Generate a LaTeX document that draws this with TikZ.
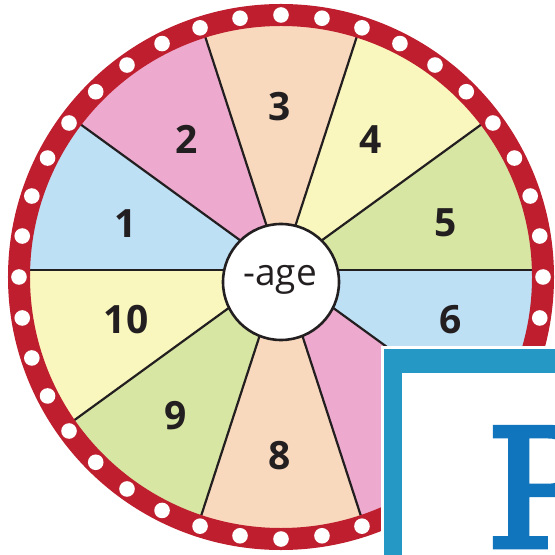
\documentclass[tikz,border=0pt]{standalone}
\usepackage{fontspec}
\setmainfont{Open Sans}
\newfontfamily\slabfont[FakeBold=3]{DejaVu Serif}

\definecolor{wheelblue}{HTML}{BDE0F5}
\definecolor{wheelpink}{HTML}{EDAACE}
\definecolor{wheelpeach}{HTML}{F9D9BD}
\definecolor{wheelyellow}{HTML}{FAF7BE}
\definecolor{wheelgreen}{HTML}{D8E6A4}
\definecolor{rimred}{HTML}{BE1E2D}
\definecolor{inkdark}{HTML}{231F20}
\definecolor{framecol}{HTML}{2698C6}
\definecolor{letterblue}{HTML}{1075BD}

\tikzset{
  spoke/.style={draw=inkdark, line width=1.1pt},
  numlabel/.style={text=inkdark, font=\fontsize{19.5}{20}\selectfont\bfseries, inner sep=0pt},
  hubcircle/.style={circle, draw=inkdark, fill=white, line width=1.3pt, minimum size=58pt, inner sep=0pt}
}

\begin{document}
\begin{tikzpicture}[x=0.5pt, y=0.5pt]
  \useasboundingbox (-281,-285) rectangle (273,270);
  \coordinate (hub) at (0,0);
  \coordinate (rim) at (0,-7);

  % sectors
  \foreach \i/\c in {1/wheelblue, 2/wheelpink, 3/wheelpeach, 4/wheelyellow, 5/wheelgreen,
                     6/wheelblue, 7/wheelpink, 8/wheelpeach, 9/wheelgreen, 10/wheelyellow}
    \fill[\c] (hub) -- ({180-36*\i}:262) arc[start angle={180-36*\i}, end angle={216-36*\i}, radius=262] -- cycle;

  % spokes
  \foreach \a in {0,36,...,324}
    \draw[spoke] (hub) -- (\a:262);

  % red rim with dots
  \draw[rimred, line width=11pt] (rim) circle (262);
  \foreach \k in {0,...,39}
    \fill[white, shift={(rim)}] (\k*9:262) circle (7.8);

  % numbers
  \foreach \n/\x/\y in {1/-155/46, 2/-94/131, 3/-1/163, 4/90/130, 5/165/47,
                        6/170/-50, 8/-1/-186, 9/-105/-146, 10/-155/-50}
    \node[numlabel] (num\n) at (\x,\y) {\n};

  % centre
  \node[hubcircle] (centre) at (0,-12) {};
  \node[text=inkdark, font=\fontsize{18.5}{19}\selectfont] (suffix) at (-1,-10) {-age};

  % card in the corner
  \fill[white] (100,-76) rectangle (300,-300);
  \fill[framecol] (103,-79) rectangle (300,-300);
  \fill[white] (121,-103) rectangle (300,-300);
  \node[anchor=base west, inner sep=0pt, text=letterblue, font=\slabfont\fontsize{82}{82}\selectfont] (letter) at (205,-277) {P};
\end{tikzpicture}
\end{document}
